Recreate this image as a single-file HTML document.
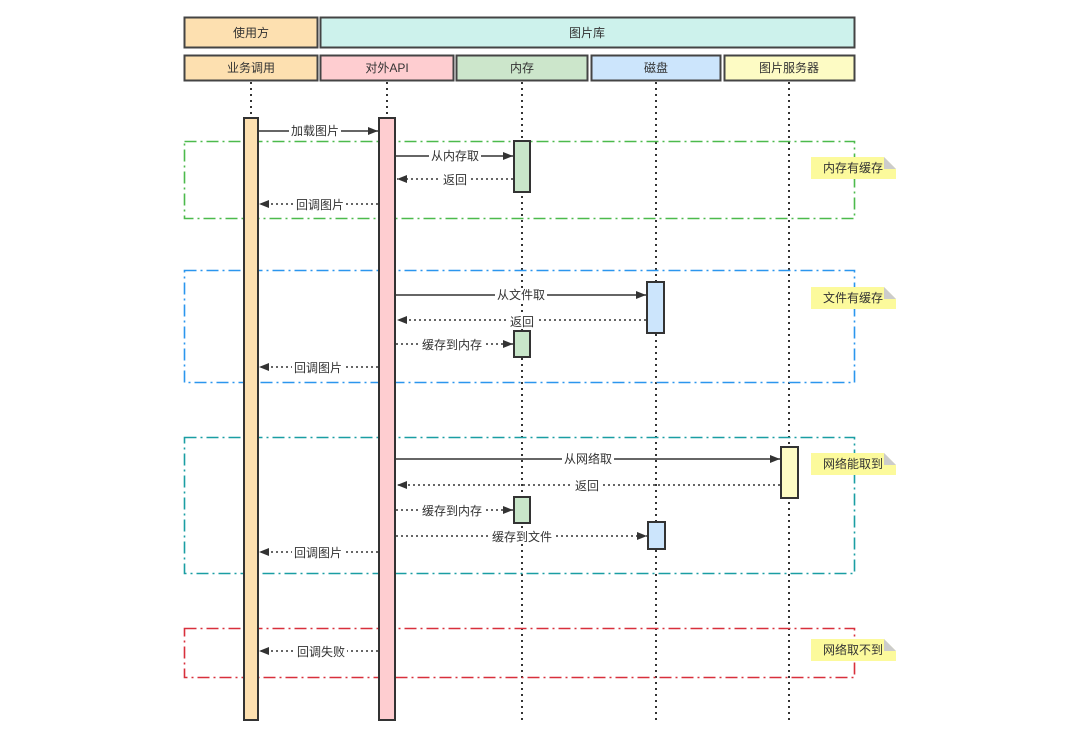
<!DOCTYPE html>
<html><head><meta charset="utf-8">
<style>
html,body{margin:0;padding:0;background:#fff;}
svg text{font-family:"Liberation Sans","Noto Sans CJK SC",sans-serif;font-size:12px;fill:#333;}
</style></head>
<body>
<svg width="1080" height="728" viewBox="0 0 1080 728" xmlns="http://www.w3.org/2000/svg">
<defs>
<marker id="ah" viewBox="0 0 10 10" refX="10" refY="5" markerWidth="10" markerHeight="10" markerUnits="userSpaceOnUse" orient="auto">
<path d="M0,1 L10,5 L0,9 z" fill="#333"/>
</marker>
</defs>
<g stroke="#444" stroke-width="2">
<rect x="184.5" y="17.5" width="133" height="30" fill="#fde0b0"/>
<rect x="320.5" y="17.5" width="534" height="30" fill="#cdf2ec"/>
<rect x="184.5" y="55.5" width="133" height="25" fill="#fde0b0"/>
<rect x="320.5" y="55.5" width="133" height="25" fill="#fecdd0"/>
<rect x="456.5" y="55.5" width="131" height="25" fill="#cce6cb"/>
<rect x="591.5" y="55.5" width="129" height="25" fill="#cce5fc"/>
<rect x="724.5" y="55.5" width="130" height="25" fill="#fdfbc4"/>
</g>
<g text-anchor="middle">
<text x="251" y="37">使用方</text>
<text x="587" y="37">图片库</text>
<text x="251" y="72">业务调用</text>
<text x="387" y="72">对外API</text>
<text x="522" y="72">内存</text>
<text x="656" y="72">磁盘</text>
<text x="789" y="72">图片服务器</text>
</g>
<g stroke="#333" stroke-width="2" stroke-dasharray="2,4">
<line x1="251" y1="82" x2="251" y2="720"/>
<line x1="387" y1="82" x2="387" y2="720"/>
<line x1="522" y1="82" x2="522" y2="720"/>
<line x1="656" y1="82" x2="656" y2="720"/>
<line x1="789" y1="82" x2="789" y2="720"/>
</g>
<g fill="none" stroke-width="1.6" stroke-dasharray="12,4,2,4">
<rect x="184.5" y="141.5" width="670" height="77" stroke="#4cba4c"/>
<rect x="184.5" y="270.5" width="670" height="112" stroke="#2b96ee"/>
<rect x="184.5" y="437.5" width="670" height="136" stroke="#1a9ea3"/>
<rect x="184.5" y="628.5" width="670" height="49" stroke="#d8303c"/>
</g>
<g>
<path d="M811,157 h73 l12,12 v10 h-85 z" fill="#fcfa9c"/><path d="M884,157 l12,12 h-12 z" fill="#ccc"/>
<path d="M811,287 h73 l12,12 v10 h-85 z" fill="#fcfa9c"/><path d="M884,287 l12,12 h-12 z" fill="#ccc"/>
<path d="M811,453 h73 l12,12 v10 h-85 z" fill="#fcfa9c"/><path d="M884,453 l12,12 h-12 z" fill="#ccc"/>
<path d="M811,639 h73 l12,12 v10 h-85 z" fill="#fcfa9c"/><path d="M884,639 l12,12 h-12 z" fill="#ccc"/>
</g>
<g text-anchor="middle">
<text x="853" y="172">内存有缓存</text>
<text x="853" y="302">文件有缓存</text>
<text x="853" y="468">网络能取到</text>
<text x="853" y="654">网络取不到</text>
</g>
<g stroke="#333" stroke-width="2">
<rect x="244" y="118" width="14" height="602" fill="#fde0b0"/>
<rect x="379" y="118" width="16" height="602" fill="#fecdd0"/>
<rect x="514" y="141" width="16" height="51" fill="#c8e6c9"/>
<rect x="647" y="282" width="17" height="51" fill="#cce5fc"/>
<rect x="514" y="331" width="16" height="26" fill="#c8e6c9"/>
<rect x="781" y="447" width="17" height="51" fill="#fdfbc4"/>
<rect x="514" y="497" width="16" height="26" fill="#c8e6c9"/>
<rect x="648" y="522" width="17" height="27" fill="#cce5fc"/>
</g>
<g stroke="#333" stroke-width="1.6" marker-end="url(#ah)">
<line x1="259" y1="131" x2="378" y2="131"/>
<line x1="396" y1="156" x2="513" y2="156"/>
<line x1="396" y1="295" x2="646" y2="295"/>
<line x1="396" y1="459" x2="780" y2="459"/>
</g>
<g stroke="#333" stroke-width="1.6" stroke-dasharray="2,3" marker-end="url(#ah)">
<line x1="513" y1="179" x2="397" y2="179"/>
<line x1="378" y1="204" x2="259" y2="204"/>
<line x1="646" y1="320" x2="397" y2="320"/>
<line x1="396" y1="344" x2="513" y2="344"/>
<line x1="378" y1="367" x2="259" y2="367"/>
<line x1="780" y1="485" x2="397" y2="485"/>
<line x1="396" y1="510" x2="513" y2="510"/>
<line x1="396" y1="536" x2="647" y2="536"/>
<line x1="378" y1="552" x2="259" y2="552"/>
<line x1="378" y1="651" x2="259" y2="651"/>
</g>
<g fill="#fff">
<rect x="289" y="124" width="52" height="14"/>
<rect x="429" y="149" width="52" height="14"/>
<rect x="441" y="172" width="28" height="14"/>
<rect x="294" y="197" width="52" height="14"/>
<rect x="495" y="288" width="52" height="14"/>
<rect x="508" y="315" width="28" height="14"/>
<rect x="420" y="337" width="64" height="14"/>
<rect x="292" y="360" width="52" height="14"/>
<rect x="562" y="452" width="52" height="14"/>
<rect x="573" y="479" width="28" height="14"/>
<rect x="420" y="503" width="64" height="14"/>
<rect x="490" y="529" width="64" height="14"/>
<rect x="292" y="545" width="52" height="14"/>
<rect x="295" y="644" width="52" height="14"/>
</g>
<g text-anchor="middle">
<text x="315" y="135">加载图片</text>
<text x="455" y="160">从内存取</text>
<text x="455" y="184">返回</text>
<text x="320" y="209">回调图片</text>
<text x="521" y="299">从文件取</text>
<text x="522" y="326">返回</text>
<text x="452" y="349">缓存到内存</text>
<text x="318" y="372">回调图片</text>
<text x="588" y="463">从网络取</text>
<text x="587" y="490">返回</text>
<text x="452" y="515">缓存到内存</text>
<text x="522" y="541">缓存到文件</text>
<text x="318" y="557">回调图片</text>
<text x="321" y="656">回调失败</text>
</g>
</svg>
</body></html>
